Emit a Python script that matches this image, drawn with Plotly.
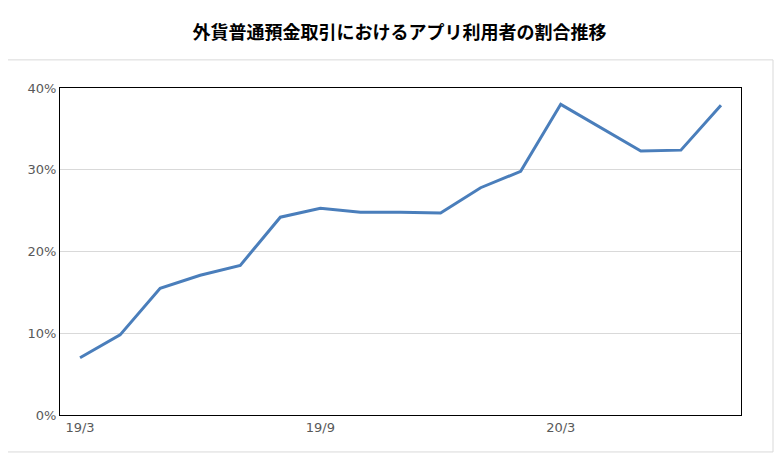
import plotly.graph_objects as go

months = ["19/3","19/4","19/5","19/6","19/7","19/8","19/9","19/10","19/11","19/12",
          "20/1","20/2","20/3","20/4","20/5","20/6","20/7"]
share = [7.0, 9.8, 15.5, 17.1, 18.3, 24.2, 25.3, 24.8, 24.8, 24.7,
         27.8, 29.8, 38.0, 35.2, 32.3, 32.4, 37.9]
shown_ticks = ["19/3", "19/9", "20/3"]

fig = go.Figure(go.Scatter(x=months, y=share, mode="lines",
                           line=dict(color="#4a7ebb", width=3)))
fig.update_layout(
    width=783, height=465, paper_bgcolor="white", plot_bgcolor="white",
    margin=dict(l=52, r=50, t=80, b=58),
    title=dict(text="<b>外貨普通預金取引におけるアプリ利用者の割合推移</b>",
               x=0.5, y=0.946, xanchor="center", yanchor="middle",
               font=dict(family="Noto Sans CJK JP", size=18, color="black")),
    font=dict(family="DejaVu Sans", size=13, color="#595959"),
    showlegend=False,
    shapes=[dict(type="rect", xref="paper", yref="paper", x0=-0.081, x1=1.047,
                 y0=-0.113, y1=1.086, line=dict(color="#d9d9d9", width=1))],
)
fig.update_xaxes(type="category", tickmode="array", tickvals=shown_ticks,
                 ticktext=shown_ticks, showline=True, linecolor="black",
                 mirror=True, showgrid=False, ticks="", range=[-0.5, 16.5])
fig.update_yaxes(range=[0, 40], dtick=10, ticksuffix="%", showline=True,
                 linecolor="black", mirror=True, gridcolor="#d9d9d9")
fig.write_html("out.html")
